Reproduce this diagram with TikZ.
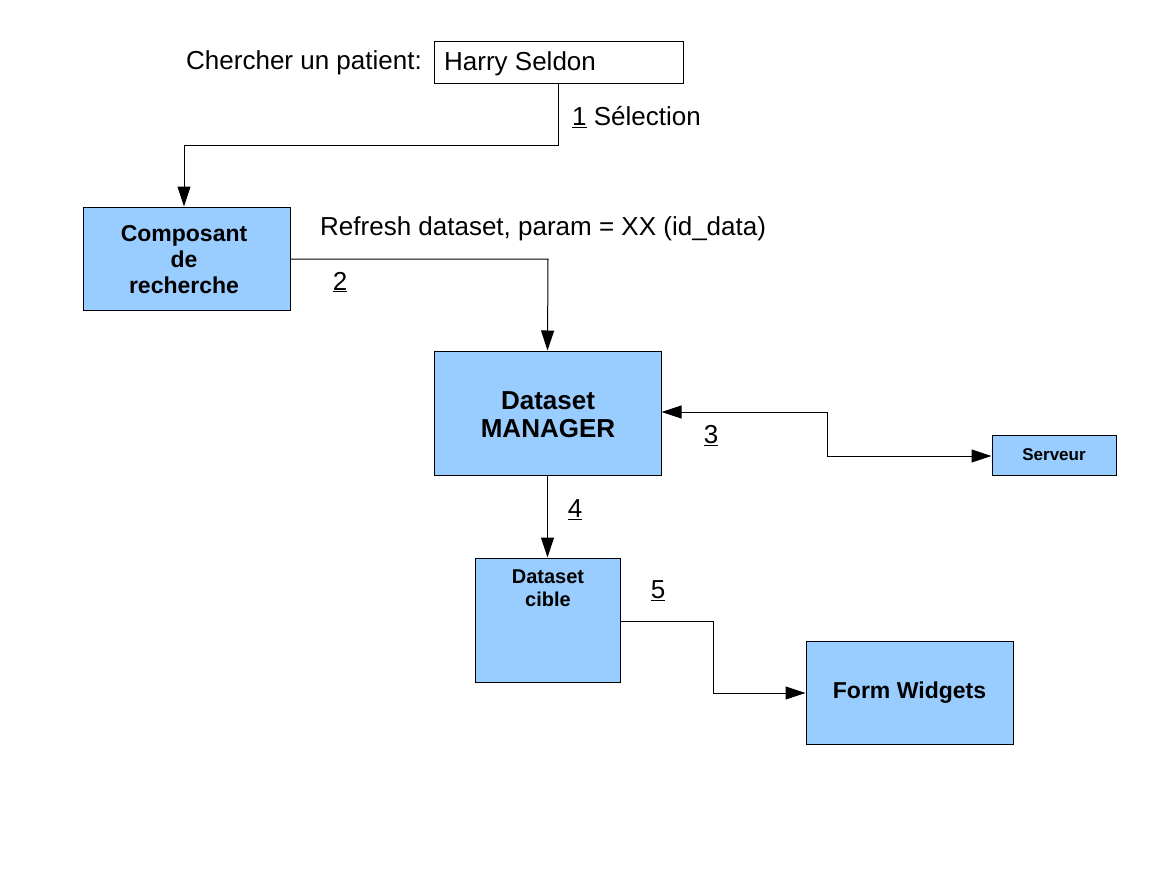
\documentclass[tikz,border=0pt]{standalone}
\usepackage{fontspec}
\setmainfont{Liberation Sans}
\usetikzlibrary{arrows.meta}
\definecolor{boxblue}{HTML}{99CCFF}
\begin{document}
\begin{tikzpicture}[x=1pt,y=-1pt,
  box/.style={draw=black,line width=1pt,fill=boxblue,inner sep=0pt,align=center},
  field/.style={draw=black,line width=1pt,fill=white,inner sep=0pt},
  conn/.style={line width=1pt,-{Triangle[length=20pt,width=13pt]}},
  dconn/.style={line width=1pt,{Triangle[length=20pt,width=13pt]}-{Triangle[length=20pt,width=13pt]}},
  lbl/.style={font=\fontsize{26}{30}\selectfont,inner sep=0pt}]
\useasboundingbox[fill=white] (0,0) rectangle (1157,868);
% nodes
\node[lbl,anchor=west] (ask) at (186,63) {Chercher un patient:};
\node[field,minimum width=249pt,minimum height=42pt] (field) at (558.5,62) {};
\node[lbl,anchor=west] (name) at (444,64) {Harry Seldon};
\node[box,minimum width=207pt,minimum height=103pt] (comp) at (186.5,258.5) {};
\node[font=\bfseries\fontsize{23}{26}\selectfont,align=center,inner sep=0pt] (comptxt) at (184,260) {Composant\\de\\recherche};
\node[box,minimum width=227pt,minimum height=124pt] (mgr) at (547.5,413) {};
\node[font=\bfseries\fontsize{26}{28}\selectfont,align=center,inner sep=0pt] (mgrtxt) at (548,415) {Dataset\\MANAGER};
\node[box,minimum width=124pt,minimum height=40pt,font=\bfseries\fontsize{17}{18}\selectfont] (srv) at (1054,455) {Serveur};
\node[box,minimum width=145pt,minimum height=124pt] (cible) at (547.5,620) {};
\node[font=\bfseries\fontsize{20}{23}\selectfont,align=center,inner sep=0pt] (cibletxt) at (548,588) {Dataset\\cible};
\node[box,minimum width=207pt,minimum height=103pt,font=\bfseries\fontsize{23}{26}\selectfont] (form) at (909.5,692.5) {Form Widgets};
% labels
\node[lbl,anchor=west] (l1) at (572,117) {\underline{1} Sélection};
\node[lbl,anchor=west] (l2t) at (320,229) {Refresh dataset, param = XX (id\_data)};
\node[lbl] (l2) at (340,282) {\underline{2}};
\node[lbl] (l3) at (711,436) {\underline{3}};
\node[lbl] (l4) at (575,510) {\underline{4}};
\node[lbl] (l5) at (658,591) {\underline{5}};
% connectors
\coordinate (c1a) at (558,145);
\coordinate (c1b) at (184,145);
\draw[conn] (field.south -| c1a) -- (c1a) -- (c1b) -- (c1b |- comp.north);
\coordinate (c2) at (548,259);
\draw[conn] (comp.east |- c2) -- (c2) -- (mgr.north);
\coordinate (c3a) at (827,412);
\coordinate (c3b) at (827,456);
\draw[dconn] (mgr.east |- c3a) -- (c3a) -- (c3b) -- (srv.west |- c3b);
\draw[conn] (mgr.south) -- (cible.north);
\coordinate (c5a) at (713,621);
\coordinate (c5b) at (713,693);
\draw[conn] (cible.east |- c5a) -- (c5a) -- (c5b) -- (form.west |- c5b);
\end{tikzpicture}
\end{document}
